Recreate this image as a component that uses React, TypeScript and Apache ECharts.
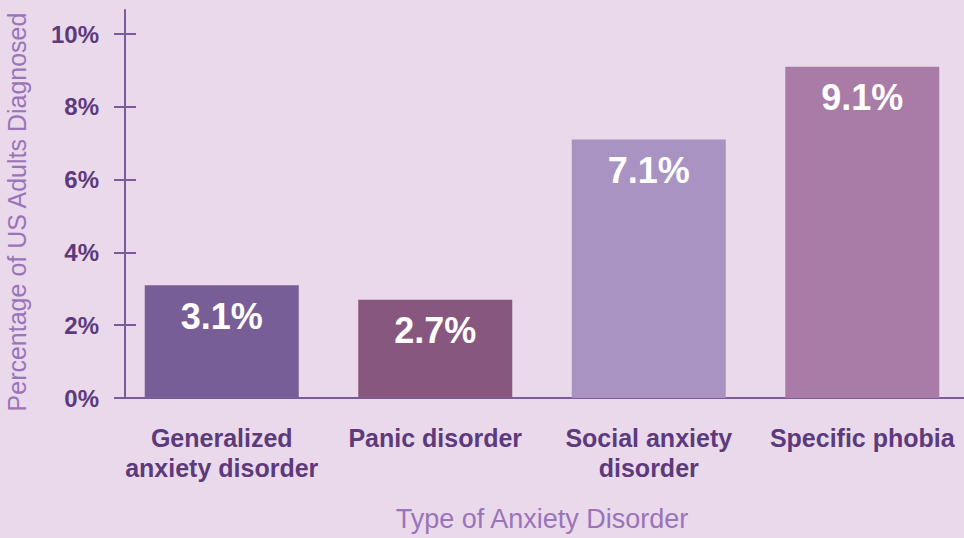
import React, { useEffect, useRef } from "react";
import * as echarts from "echarts";

const categories = [
  "Generalized\nanxiety disorder",
  "Panic disorder",
  "Social anxiety\ndisorder",
  "Specific phobia",
];
const values = [3.1, 2.7, 7.1, 9.1];
const barColors = ["#785E96", "#87577F", "#A993C2", "#A97BA7"];
const yTicks = [0, 2, 4, 6, 8, 10];

const FONT = "'Liberation Sans', Arial, Helvetica, sans-serif";
const DARK = "#5D3A7C";
const LIGHT = "#9A74B9";
const AXIS = "#7B5C9A";

export default function App() {
  const ref = useRef<HTMLDivElement>(null);
  useEffect(() => {
    const chart = echarts.init(ref.current!, undefined, { renderer: "svg" });
    chart.setOption({
      animation: false,
      backgroundColor: "#E9D9EB",
      textStyle: { fontFamily: FONT },
      grid: {
        left: 115,
        right: -5,
        top: 10,
        bottom: 140,
        containLabel: false,
        outerBoundsMode: "none",
      },
      graphic: [
        {
          type: "text",
          x: 17,
          y: 212,
          rotation: Math.PI / 2,
          style: {
            text: "Percentage of US Adults Diagnosed",
            fill: LIGHT,
            fontSize: 25,
            fontFamily: FONT,
            align: "center",
            verticalAlign: "middle",
          },
        },
      ],
      xAxis: {
        type: "category",
        data: categories,
        axisLine: { lineStyle: { color: AXIS, width: 2 } },
        axisTick: { show: false },
        axisLabel: {
          color: DARK,
          fontWeight: "bold",
          fontSize: 25,
          lineHeight: 30,
          margin: 25,
          fontFamily: FONT,
          interval: 0,
        },
        name: "Type of Anxiety Disorder",
        nameLocation: "middle",
        nameGap: 107,
        nameTextStyle: { color: LIGHT, fontSize: 27, fontFamily: FONT },
      },
      yAxis: [
        {
          type: "value",
          min: 0,
          max: 10.66,
          position: "left",
          offset: -10,
          splitLine: { show: false },
          axisLine: { show: true, lineStyle: { color: AXIS, width: 2 } },
          axisTick: {
            show: true,
            length: 11,
            customValues: yTicks,
            lineStyle: { color: AXIS, width: 2 },
          },
          axisLabel: {
            customValues: yTicks,
            formatter: (v: number) => `${v}%`,
            color: DARK,
            fontWeight: "bold",
            fontSize: 24,
            margin: 26,
            fontFamily: FONT,
          },
        },
        {
          type: "value",
          min: 0,
          max: 10.66,
          position: "left",
          offset: -10,
          splitLine: { show: false },
          axisLine: { show: false },
          axisTick: {
            show: true,
            inside: true,
            length: 11,
            customValues: yTicks,
            lineStyle: { color: AXIS, width: 2 },
          },
          axisLabel: { show: false },
        },
      ],
      series: [
        {
          type: "bar",
          data: values.map((v, i) => ({ value: v, itemStyle: { color: barColors[i] } })),
          barWidth: 154,
          label: {
            show: true,
            position: "insideTop",
            distance: 13,
            formatter: (p: any) => `${p.value}%`,
            color: "#FFFFFF",
            fontWeight: "bold",
            fontSize: 36,
            fontFamily: FONT,
          },
        },
      ],
    });
    return () => chart.dispose();
  }, []);
  return <div ref={ref} style={{ width: 964, height: 538, position: "absolute", left: 0, top: 0 }} />;
}
